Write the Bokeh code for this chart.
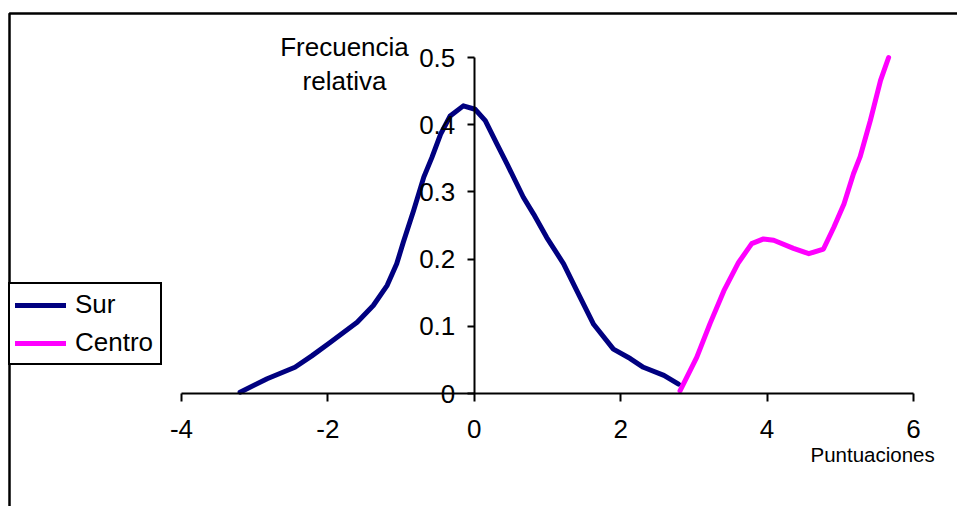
from bokeh.plotting import figure
from bokeh.models import (Range1d, LinearAxis, FixedTicker, Label, Legend,
                          LegendItem, BoxAnnotation)
from bokeh.embed import file_html
from bokeh.resources import INLINE

# Series: relative frequency against score
sur_x = [-3.20, -2.83, -2.45, -2.22, -1.97, -1.60, -1.38, -1.19, -1.06, -0.97,
         -0.83, -0.69, -0.58, -0.46, -0.33, -0.15, 0.01, 0.15, 0.31, 0.45,
         0.67, 0.81, 0.99, 1.22, 1.40, 1.63, 1.90, 2.13, 2.31, 2.59, 2.79]
sur_y = [0.002, 0.022, 0.039, 0.056, 0.076, 0.106, 0.131, 0.161, 0.193, 0.225,
         0.272, 0.322, 0.351, 0.386, 0.413, 0.428, 0.423, 0.406, 0.371, 0.341,
         0.292, 0.267, 0.232, 0.193, 0.153, 0.103, 0.066, 0.052, 0.039, 0.027, 0.014]

centro_x = [2.81, 3.04, 3.22, 3.41, 3.61, 3.79, 3.95, 4.09, 4.36, 4.57,
            4.77, 4.91, 5.05, 5.18, 5.27, 5.41, 5.55, 5.66]
centro_y = [0.004, 0.054, 0.104, 0.153, 0.195, 0.223, 0.230, 0.228, 0.216, 0.208,
            0.215, 0.247, 0.282, 0.327, 0.352, 0.406, 0.466, 0.500]

x_ticks = [-4, -2, 0, 2, 4, 6]
x_tick_labels = ["-4", "-2", "0", "2", "4", "6"]
y_ticks = [0, 0.1, 0.2, 0.3, 0.4, 0.5]
y_tick_labels = ["0", "0.1", "0.2", "0.3", "0.4", "0.5"]
series_names = ["Sur", "Centro"]
series_colors = ["#000080", "#FF00FF"]

W, H = 957, 506
FONT = "Liberation Sans"

# pixel layout of the axes box: x from -4..6, y from 0..0.5
AX_LEFT, AX_RIGHT = 181, 913
AX_BOTTOM, AX_TOP = 393, 57
x_lo, x_hi = x_ticks[0], x_ticks[-1]
y_lo, y_hi = y_ticks[0], y_ticks[-1]
kx = (AX_RIGHT - AX_LEFT) / (x_hi - x_lo)
ky = (AX_BOTTOM - AX_TOP) / (y_hi - y_lo)


def px_to_x(px):
    return x_lo + (px - AX_LEFT) / kx


def py_to_y(py):
    return y_lo + (AX_BOTTOM - py) / ky


p = figure(width=W, height=H, output_backend="svg", toolbar_location=None,
           x_range=Range1d(px_to_x(0), px_to_x(W)),
           y_range=Range1d(py_to_y(H), py_to_y(0)),
           x_axis_location=None, y_axis_location=None,
           min_border=0, min_border_left=0, min_border_right=0,
           min_border_top=0, min_border_bottom=0)
p.outline_line_color = None
p.background_fill_color = "white"
p.border_fill_color = "white"
p.grid.grid_line_color = None

# chart area border; right and bottom edges run past the page
p.add_layout(BoxAnnotation(left=px_to_x(9), top=py_to_y(13),
                           right=px_to_x(W + 30), bottom=py_to_y(H + 30),
                           fill_alpha=0, line_color="black", line_width=2.5,
                           line_alpha=1, level="underlay"))

# axes crossing at the origin
xaxis = LinearAxis(fixed_location=0, bounds=(x_lo, x_hi),
                   ticker=FixedTicker(ticks=x_ticks),
                   major_label_overrides=dict(zip(x_ticks, x_tick_labels)))
xaxis.axis_line_width = 2
xaxis.major_tick_line_width = 2
xaxis.major_tick_in = 0
xaxis.major_tick_out = 8
xaxis.minor_tick_line_color = None
xaxis.major_label_standoff = 18
xaxis.major_label_text_font = FONT
xaxis.major_label_text_font_size = "26px"
xaxis.major_label_text_color = "black"
p.add_layout(xaxis, "below")

yaxis = LinearAxis(fixed_location=0, bounds=(y_lo, y_hi),
                   ticker=FixedTicker(ticks=y_ticks),
                   major_label_overrides=dict(zip(y_ticks, y_tick_labels)))
yaxis.axis_line_width = 2
yaxis.major_tick_line_width = 2
yaxis.major_tick_in = 0
yaxis.major_tick_out = 7
yaxis.minor_tick_line_color = None
yaxis.major_label_standoff = 12
yaxis.major_label_text_font = FONT
yaxis.major_label_text_font_size = "26px"
yaxis.major_label_text_color = "black"
p.add_layout(yaxis, "left")

# curves
r_sur = p.line(sur_x, sur_y, line_color=series_colors[0], line_width=5,
               line_join="round", line_cap="round")
r_cen = p.line(centro_x, centro_y, line_color=series_colors[1], line_width=5,
               line_join="round", line_cap="round")

# axis titles
p.add_layout(Label(x=px_to_x(344), y=py_to_y(63.5), text="Frecuencia\nrelativa",
                   text_font=FONT, text_font_size="26px", text_color="black",
                   text_align="center", text_baseline="middle",
                   text_line_height=1.12))
p.add_layout(Label(x=px_to_x(810), y=py_to_y(454), text="Puntuaciones",
                   text_font=FONT, text_font_size="20.5px", text_color="black",
                   text_align="left", text_baseline="alphabetic"))

legend = Legend(items=[LegendItem(label=series_names[0], renderers=[r_sur]),
                       LegendItem(label=series_names[1], renderers=[r_cen])],
                location=(8, H - 365))
legend.border_line_color = "black"
legend.border_line_alpha = 1
legend.border_line_width = 2
legend.background_fill_color = "white"
legend.background_fill_alpha = 1
legend.label_text_font = FONT
legend.label_text_font_size = "26px"
legend.label_text_color = "black"
legend.glyph_width = 51
legend.glyph_height = 24
legend.label_height = 24
legend.label_width = 80
legend.label_standoff = 9
legend.spacing = 7
legend.padding = 5
legend.margin = 0
p.add_layout(legend)

open("out.html", "w").write(file_html(p, INLINE))
